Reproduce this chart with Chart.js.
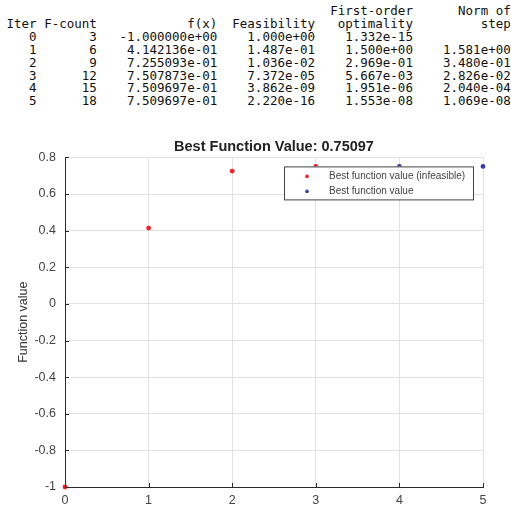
<!DOCTYPE html>
<html lang="en">
<head>
<meta charset="UTF-8">
<title>Best Function Value</title>
<script src="https://cdn.jsdelivr.net/npm/chart.js@4.4.3/dist/chart.umd.min.js"></script>
<style>
    html, body { margin: 0; padding: 0; background: #fff; }
    #wrap { position: relative; width: 511px; height: 511px; overflow: hidden; }
    #iterTable {
        position: absolute; left: -1px; top: 5px; margin: 0;
        font-family: "DejaVu Sans Mono", monospace; font-size: 12.5px; line-height: 12.9px;
        color: #111; white-space: pre;
    }
    #chartBox { position: absolute; left: 0; top: 128px; width: 511px; height: 383px; }
</style>
</head>
<body>
<div id="wrap">
    <pre id="iterTable"></pre>
    <div id="chartBox"><canvas id="chart"></canvas></div>
</div>
<script>
// iteration log
const iterations = [0, 1, 2, 3, 4, 5];
const fCount = [3, 6, 9, 12, 15, 18];
const fx = [-1.0, 0.4142136, 0.7255093, 0.7507873, 0.7509697, 0.7509697];
const feasibility = [1.000e+00, 1.487e-01, 1.036e-02, 7.372e-05, 3.862e-09, 2.220e-16];
const optimality = [1.332e-15, 1.500e+00, 2.969e-01, 5.667e-03, 1.951e-06, 1.553e-08];
const stepNorm = [null, 1.581e+00, 3.480e-01, 2.826e-02, 2.040e-04, 1.069e-08];
// red markers = infeasible iterate, blue = feasible
const isFeasible = [false, false, false, false, true, true];

const bestValue = '0.75097';
const xTicks = [0, 1, 2, 3, 4, 5];
const yMin = -1, yMax = 0.8, yStep = 0.2;

// --- text table ---
function fmtExp(v, d) {
    if (v === null) return '';
    return v.toExponential(d).replace(/e([+-])(\d)$/, 'e$10$2');
}
function pad(s, w) { s = String(s); return ' '.repeat(Math.max(0, w - s.length)) + s; }

let lines = [];
lines.push(pad('First-order', 55) + pad('Norm of', 13));
lines.push(pad('Iter', 5) + pad('F-count', 8) + pad('f(x)', 16) + pad('Feasibility', 13) + pad('optimality', 13) + pad('step', 13));
iterations.forEach((it, i) => {
    let row = pad(it, 5) + pad(fCount[i], 8) + pad(fmtExp(fx[i], 6), 16) +
        pad(fmtExp(feasibility[i], 3), 13) + pad(fmtExp(optimality[i], 3), 13);
    if (stepNorm[i] !== null) row += pad(fmtExp(stepNorm[i], 3), 13);
    lines.push(row);
});
document.getElementById('iterTable').textContent = lines.join('\n');

// --- chart ---
const redPts = iterations.map((it, i) => isFeasible[i] ? null : { x: it, y: fx[i] }).filter(p => p);
const bluePts = iterations.map((it, i) => isFeasible[i] ? { x: it, y: fx[i] } : null).filter(p => p);

const axisColor = '#2b2b2b';
const gridColor = '#e2e2e2';
const tickColor = '#444';
const sansFont = '"Liberation Sans", Arial, sans-serif';

// legend box drawn inside the plot, like the original figure
const insideLegend = {
    id: 'insideLegend',
    afterDatasetsDraw(chart) {
        const { ctx, chartArea } = chart;
        const w = 189, h = 33;
        const left = chartArea.right - 10 - w;
        const top = chartArea.top + 9;
        ctx.save();
        ctx.fillStyle = '#fff';
        ctx.fillRect(left, top, w, h);
        ctx.strokeStyle = '#444';
        ctx.lineWidth = 1;
        ctx.strokeRect(left + 0.5, top + 0.5, w, h);
        ctx.font = '10px ' + sansFont;
        ctx.textBaseline = 'middle';
        chart.data.datasets.forEach((ds, i) => {
            const yy = top + 10 + i * 15;
            ctx.fillStyle = ds.backgroundColor;
            ctx.beginPath();
            ctx.arc(left + 23, yy, 1.8, 0, Math.PI * 2);
            ctx.fill();
            ctx.fillStyle = '#444';
            ctx.fillText(ds.label, left + 45, yy);
        });
        ctx.restore();
    }
};

// small inward tick marks on the left and bottom axes
const innerTicks = {
    id: 'innerTicks',
    afterDraw(chart) {
        const { ctx, chartArea, scales } = chart;
        ctx.save();
        ctx.strokeStyle = axisColor;
        ctx.lineWidth = 1;
        scales.x.ticks.forEach(t => {
            const px = Math.round(scales.x.getPixelForValue(t.value)) + 0.5;
            ctx.beginPath();
            ctx.moveTo(px, chartArea.bottom);
            ctx.lineTo(px, chartArea.bottom - 4);
            ctx.stroke();
        });
        scales.y.ticks.forEach(t => {
            const py = Math.round(scales.y.getPixelForValue(t.value)) + 0.5;
            ctx.beginPath();
            ctx.moveTo(chartArea.left, py);
            ctx.lineTo(chartArea.left + 4, py);
            ctx.stroke();
        });
        ctx.restore();
    }
};

new Chart(document.getElementById('chart'), {
    type: 'scatter',
    data: {
        datasets: [{
            label: 'Best function value (infeasible)',
            data: redPts,
            backgroundColor: '#ff1a1a',
            borderColor: '#ff1a1a',
            pointRadius: 2.4,
            pointHoverRadius: 2.4,
            borderWidth: 0,
            clip: false
        }, {
            label: 'Best function value',
            data: bluePts,
            backgroundColor: '#3a3aa8',
            borderColor: '#3a3aa8',
            pointRadius: 2.4,
            pointHoverRadius: 2.4,
            borderWidth: 0,
            clip: false
        }]
    },
    options: {
        responsive: true,
        maintainAspectRatio: false,
        animation: false,
        layout: { padding: { left: 0, right: 28, top: 0, bottom: 0 } },
        scales: {
            x: {
                type: 'linear',
                min: xTicks[0],
                max: xTicks[xTicks.length - 1],
                afterFit: s => { s.height = 24; },
                afterBuildTicks: s => { s.ticks = xTicks.map(v => ({ value: v })); },
                grid: { color: gridColor, drawTicks: false },
                border: { color: axisColor, width: 1 },
                ticks: {
                    color: tickColor, padding: 6,
                    font: { family: sansFont, size: 12.5 }
                }
            },
            y: {
                min: yMin,
                max: yMax,
                afterFit: s => { s.width = 65; },
                grid: { color: gridColor, drawTicks: false },
                border: { color: axisColor, width: 1 },
                ticks: {
                    stepSize: yStep, color: tickColor, padding: 9,
                    font: { family: sansFont, size: 12.5 },
                    callback: v => String(Math.round(v * 10) / 10)
                },
                title: {
                    display: true,
                    text: 'Function value',
                    color: '#333',
                    padding: { top: 16, bottom: 0 },
                    font: { family: sansFont, size: 12.5 }
                }
            }
        },
        plugins: {
            legend: { display: false },
            tooltip: { enabled: false },
            title: {
                display: true,
                fullSize: false,
                text: 'Best Function Value: ' + bestValue,
                color: '#222',
                padding: { top: 10, bottom: 2 },
                font: { family: sansFont, size: 14.5, weight: 'bold' }
            }
        }
    },
    plugins: [insideLegend, innerTicks]
});
</script>
</body>
</html>
